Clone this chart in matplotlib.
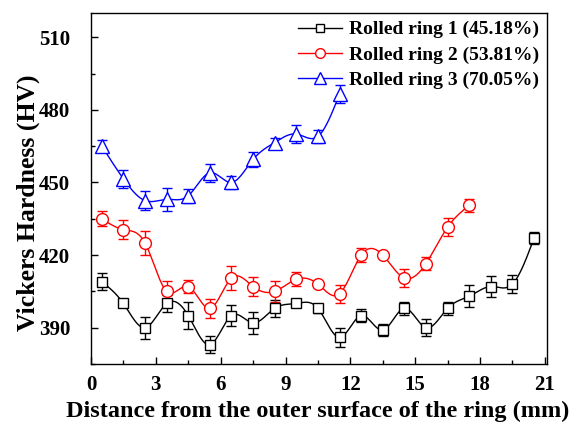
import numpy as np
import matplotlib
matplotlib.use("Agg")
import matplotlib.pyplot as plt
from matplotlib.lines import Line2D
from matplotlib.ticker import MultipleLocator

plt.rcParams['font.family'] = ['Liberation Serif', 'DejaVu Serif']
plt.rcParams['font.weight'] = 'bold'

# ---- data ----
x1 = [0.5, 1.5, 2.5, 3.5, 4.5, 5.5, 6.5, 7.5, 8.5, 9.5, 10.5, 11.5, 12.5, 13.5, 14.5, 15.5, 16.5, 17.5, 18.5, 19.5, 20.5]
y1 = [409, 400, 390, 400, 395, 383, 395, 392, 398, 400, 398, 386, 395, 389, 398, 390, 398, 403, 407, 408, 427]
e1 = [3.5, 1.0, 4.5, 3.5, 5.5, 3.5, 4.5, 4.5, 3.5, 1.0, 1.8, 3.8, 2.8, 2.6, 2.8, 3.6, 2.6, 4.5, 4.5, 3.8, 2.6]

x2 = [0.5, 1.5, 2.5, 3.5, 4.5, 5.5, 6.5, 7.5, 8.5, 9.5, 10.5, 11.5, 12.5, 13.5, 14.5, 15.5, 16.5, 17.5]
y2 = [435, 430.5, 425, 405, 407, 398, 410.5, 407, 405, 410, 408, 404, 420, 420, 410.5, 416.5, 431.5, 440.5]
e2 = [3.0, 3.8, 4.8, 4.3, 2.8, 3.8, 4.8, 3.8, 4.3, 2.8, 1.2, 3.8, 2.8, 1.0, 3.8, 2.8, 3.8, 2.8]

x3 = [0.5, 1.5, 2.5, 3.5, 4.5, 5.5, 6.5, 7.5, 8.5, 9.5, 10.5, 11.5]
y3 = [465, 451.5, 442.5, 443, 444.5, 454, 450, 459.5, 466.5, 470, 469, 486.5]
e3 = [2.6, 3.8, 3.8, 4.8, 2.8, 3.8, 2.6, 3.0, 2.0, 3.6, 2.8, 3.6]

labels = ['Rolled ring 1 (45.18%)', 'Rolled ring 2 (53.81%)', 'Rolled ring 3 (70.05%)']
colors = ['black', 'red', 'blue']
markers = ['s', 'o', '^']
msizes = [7.5, 8.5, 9.5]
leg_msizes = [6.0, 7.0, 8.0]

xticks = [0, 3, 6, 9, 12, 15, 18, 21]
yticks = [390, 420, 450, 480, 510]


def natural_spline(x, y, n=300):
    x = np.asarray(x, float)
    y = np.asarray(y, float)
    m = len(x)
    h = np.diff(x)
    A = np.zeros((m, m))
    b = np.zeros(m)
    A[0, 0] = 1
    A[-1, -1] = 1
    for i in range(1, m - 1):
        A[i, i - 1] = h[i - 1]
        A[i, i] = 2 * (h[i - 1] + h[i])
        A[i, i + 1] = h[i]
        b[i] = 6 * ((y[i + 1] - y[i]) / h[i] - (y[i] - y[i - 1]) / h[i - 1])
    M = np.linalg.solve(A, b)
    xs = np.linspace(x[0], x[-1], n)
    idx = np.clip(np.searchsorted(x, xs) - 1, 0, m - 2)
    xi, xi1 = x[idx], x[idx + 1]
    hi = xi1 - xi
    ys = (M[idx] * (xi1 - xs) ** 3 / (6 * hi) + M[idx + 1] * (xs - xi) ** 3 / (6 * hi)
          + (y[idx] / hi - M[idx] * hi / 6) * (xi1 - xs)
          + (y[idx + 1] / hi - M[idx + 1] * hi / 6) * (xs - xi))
    return xs, ys


fig = plt.figure(figsize=(5.78, 4.25), dpi=100)
ax = fig.add_axes([91 / 578, 1 - 364 / 425, (547 - 91) / 578, (364 - 13) / 425])

series = [(x1, y1, e1), (x2, y2, e2), (x3, y3, e3)]
handles = []
for (x, y, e), c, mk, ms, lms, lab in zip(series, colors, markers, msizes, leg_msizes, labels):
    xs, ys = natural_spline(x, y)
    ax.plot(xs, ys, color=c, lw=1.0, zorder=2)
    ax.errorbar(x, y, yerr=e, fmt='none', ecolor=c, elinewidth=1.0, capsize=3.6, capthick=1.0, zorder=3)
    ax.plot(x, y, ls='none', marker=mk, ms=ms, mfc='white', mec=c, mew=1.0, zorder=4)
    handles.append(Line2D([], [], color=c, lw=1.0, marker=mk, ms=lms, mfc='white', mec=c, mew=1.0, label=lab))

ax.set_xlim(0, 21.1)
ax.set_ylim(375, 520)
ax.set_xticks(xticks)
ax.set_yticks(yticks)
ax.xaxis.set_minor_locator(MultipleLocator(1.5))
ax.yaxis.set_minor_locator(MultipleLocator(15))
ax.tick_params(which='both', direction='in', top=False, right=False, width=1.0)
ax.tick_params(which='major', length=5, labelsize=15)
ax.tick_params(which='minor', length=3)
ax.tick_params(axis='y', which='major', pad=15)
ax.tick_params(axis='x', which='major', pad=8)
for lab in ax.get_xticklabels() + ax.get_yticklabels():
    lab.set_fontweight('bold')
for sp in ax.spines.values():
    sp.set_linewidth(1.0)

ax.set_xlabel('Distance from the outer surface of the ring (mm)', fontsize=17.5, fontweight='bold', va='center')
ax.set_ylabel('Vickers Hardness (HV)', fontsize=18.5, fontweight='bold', va='center')
ax.xaxis.set_label_coords((318 - 91) / 456, -(411 - 364) / 351)
ax.yaxis.set_label_coords((28 - 91) / 456, (364 - 203) / 351)

leg = ax.legend(handles=handles, loc='upper right', frameon=False,
                handlelength=2.3, handletextpad=0.35, labelspacing=0.38,
                borderaxespad=0.0, prop={'weight': 'bold', 'size': 14})

fig.savefig('out.png', dpi=100)
